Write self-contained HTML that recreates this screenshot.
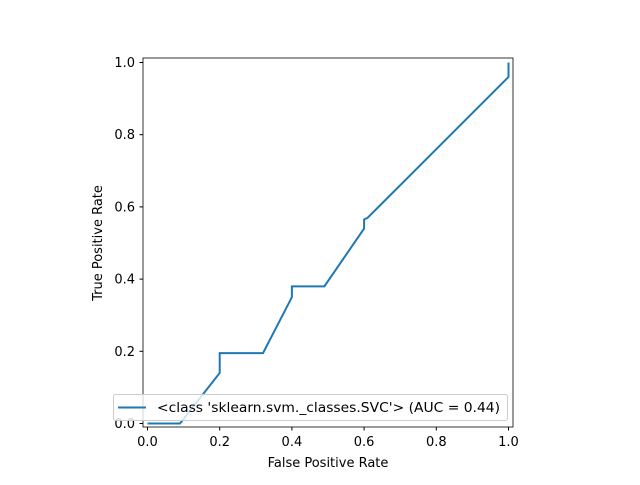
<!DOCTYPE html>
<html><head><style>
body{margin:0;background:#fff;}
svg text{font-family:"DejaVu Sans","Liberation Sans",sans-serif;fill:#000;}
</style></head><body>
<svg width="640" height="480">
<rect x="0" y="0" width="640" height="480" fill="#fff"/>
<g id="ticks"></g>
<path id="roc" fill="none" stroke="#1f77b4" stroke-width="2"/>
<rect x="143" y="58" width="370" height="369" fill="none" stroke="#000" stroke-width="0.8"/>
<g>
<rect x="113.5" y="394.5" width="394" height="26" rx="2" fill="#fff" fill-opacity="0.8" stroke="#ccc"/>
<line x1="118" y1="407.5" x2="146" y2="407.5" stroke="#1f77b4" stroke-width="2"/>
<text x="157" y="412" font-size="13.5" textLength="343" lengthAdjust="spacingAndGlyphs">&lt;class 'sklearn.svm._classes.SVC'&gt; (AUC = 0.44)</text>
</g>
<text x="328" y="467" font-size="13" text-anchor="middle">False Positive Rate</text>
<text transform="translate(102,243) rotate(-90)" font-size="13" text-anchor="middle">True Positive Rate</text>
</svg>
<script>
const fpr=[0,0.09,0.2,0.2,0.32,0.4,0.4,0.49,0.6,0.6,0.61,1,1];
const tpr=[0,0,0.14,0.195,0.195,0.35,0.38,0.38,0.54,0.565,0.57,0.96,1];
const tickVals=[0,0.2,0.4,0.6,0.8,1];
const tickLabels=["0.0","0.2","0.4","0.6","0.8","1.0"];
const X=v=>147.5+v*361, Y=v=>423.5-v*361;
const NS="http://www.w3.org/2000/svg";
document.getElementById('roc').setAttribute('d',fpr.map((v,i)=>(i?'L':'M')+X(v)+','+Y(tpr[i])).join(''));
const g=document.getElementById('ticks');
tickVals.forEach((v,i)=>{
 let l=document.createElementNS(NS,'line');
 l.setAttribute('x1',X(v));l.setAttribute('x2',X(v));l.setAttribute('y1',427);l.setAttribute('y2',430.5);l.setAttribute('stroke','#000');
 
 
 g.appendChild(l);
 let t=document.createElementNS(NS,'text');
 t.setAttribute('x',X(v));t.setAttribute('y',446);t.setAttribute('font-size','13');t.setAttribute('text-anchor','middle');t.textContent=tickLabels[i];
 
 
 g.appendChild(t);
 let l2=document.createElementNS(NS,'line');
 l2.setAttribute('x1',139.5);l2.setAttribute('x2',143);l2.setAttribute('y1',Y(v));l2.setAttribute('y2',Y(v));l2.setAttribute('stroke','#000');
 
 
 g.appendChild(l2);
 let t2=document.createElementNS(NS,'text');
 t2.setAttribute('x',135);t2.setAttribute('y',Y(v)+4.5);t2.setAttribute('font-size','13');t2.setAttribute('text-anchor','end');t2.textContent=tickLabels[i];
 
 
 g.appendChild(t2);
});
</script>
</body></html>
